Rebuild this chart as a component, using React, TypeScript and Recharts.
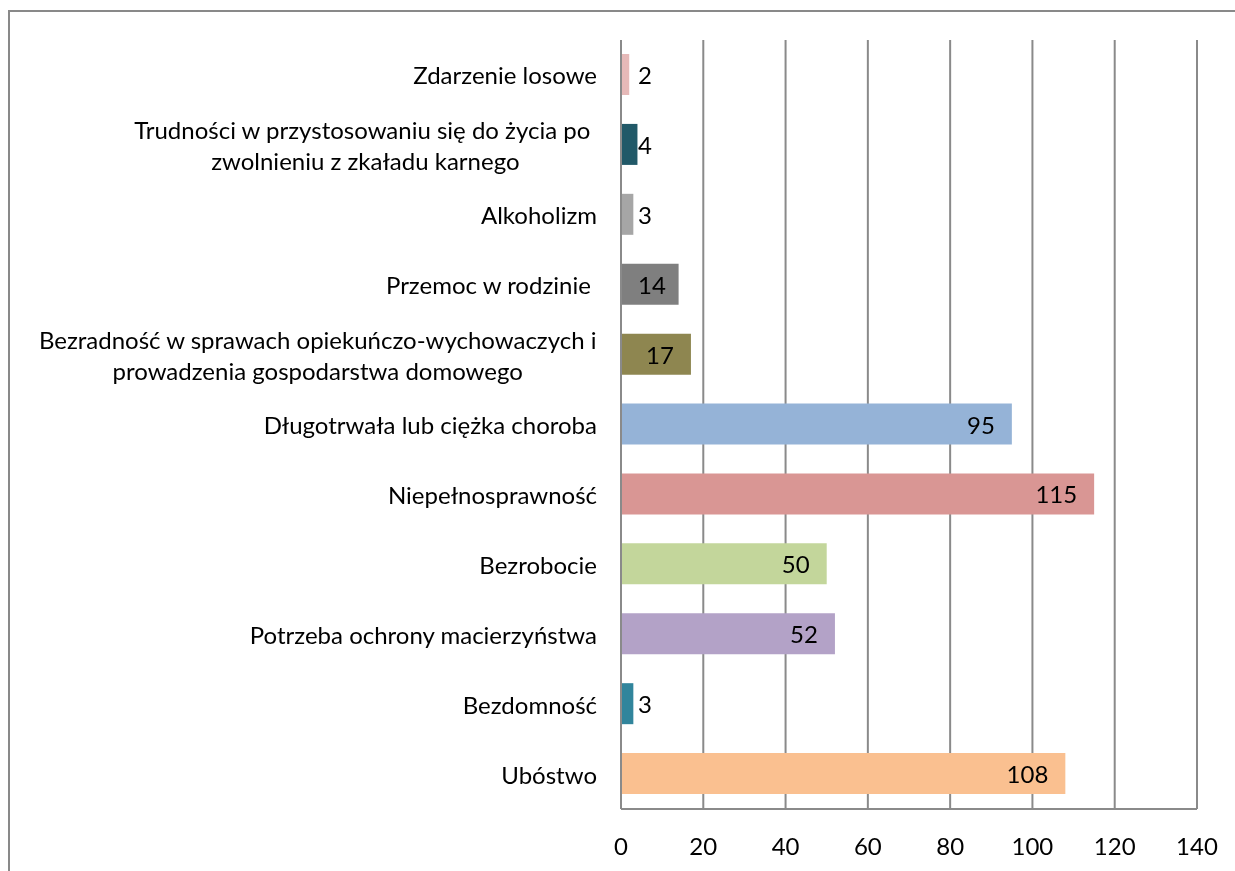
import React from 'react';
import { BarChart, Bar, XAxis, YAxis, CartesianGrid, Cell, LabelList } from 'recharts';

const categories = [
  'Zdarzenie losowe',
  'Trudności w przystosowaniu się do życia po \nzwolnieniu z zkaładu karnego',
  'Alkoholizm',
  'Przemoc w rodzinie ',
  'Bezradność w sprawach opiekuńczo-wychowaczych i\nprowadzenia gospodarstwa domowego',
  'Długotrwała lub ciężka choroba',
  'Niepełnosprawność',
  'Bezrobocie',
  'Potrzeba ochrony macierzyństwa',
  'Bezdomność',
  'Ubóstwo',
];
const values = [2, 4, 3, 14, 17, 95, 115, 50, 52, 3, 108];
const colors = ['#E6B9B8', '#215968', '#A6A6A6', '#7F7F7F', '#8E8650', '#95B3D7', '#D99694', '#C3D69B', '#B3A2C7', '#31859C', '#FAC090'];
const xTicks = [0, 20, 40, 60, 80, 100, 120, 140];

const data = categories.map((c, i) => ({ name: c, value: values[i], color: colors[i] }));

const FONT = 'Lato';
const FS = 24;

let ctx: CanvasRenderingContext2D | null = null;
function measure(s: string): number {
  if (!ctx) {
    const c = document.createElement('canvas');
    ctx = c.getContext('2d');
  }
  if (!ctx) return s.length * FS * 0.5;
  ctx.font = `${FS}px ${FONT}`;
  return ctx.measureText(s).width;
}

const CatTick = (props: any) => {
  const { x, y, payload } = props;
  const lines: string[] = String(payload.value).split('\n');
  if (lines.length === 1) {
    return (
      <text x={x} y={y} textAnchor="end" dominantBaseline="central" fontFamily={FONT} fontSize={FS} fill="#000" style={{ whiteSpace: 'pre' }}>
        {lines[0]}
      </text>
    );
  }
  const w = Math.max(...lines.map((l) => measure(l)));
  const cx = x - w / 2;
  const lh = 31;
  return (
    <text textAnchor="middle" fontFamily={FONT} fontSize={FS} fill="#000" style={{ whiteSpace: 'pre' }}>
      {lines.map((l, i) => (
        <tspan key={i} x={cx} y={y + (i - (lines.length - 1) / 2) * lh} dominantBaseline="central">
          {l}
        </tspan>
      ))}
    </text>
  );
};

const ValTick = (props: any) => {
  const { x, y, payload } = props;
  return (
    <text x={x} y={y + 28} textAnchor="middle" dominantBaseline="central" fontFamily={FONT} fontSize={FS} fill="#000">
      {payload.value}
    </text>
  );
};

const ValueLabel = (props: any) => {
  const { x, y, width, height, value } = props;
  const s = String(value);
  const tw = measure(s);
  const end = Math.max(x + width - 17, x + 17 + tw);
  return (
    <text x={end} y={y + height / 2} textAnchor="end" dominantBaseline="central" fontFamily={FONT} fontSize={FS} fill="#000">
      {s}
    </text>
  );
};

export default function App() {
  return (
    <div style={{ position: 'relative', width: 1219, height: 855 }}>
      <div
        style={{
          position: 'fixed',
          left: 8,
          top: 10,
          width: 2000,
          height: 2000,
          border: '2px solid #898989',
          boxSizing: 'border-box',
        }}
      />
      <div style={{ position: 'absolute', left: 0, top: 0 }}>
        <BarChart
          width={1219}
          height={855}
          data={data}
          layout="vertical"
          margin={{ top: 32, right: 30, bottom: 14, left: 0 }}
          barSize={41}
        >
          <CartesianGrid horizontal={false} vertical={true} stroke="#8A8A8A" strokeWidth={2} />
          <XAxis
            type="number"
            domain={[0, 140]}
            ticks={xTicks}
            tickLine={false}
            axisLine={{ stroke: '#8A8A8A', strokeWidth: 2 }}
            tick={<ValTick />}
            height={40}
            interval={0}
          />
          <YAxis
            type="category"
            dataKey="name"
            width={613}
            tickLine={false}
            tickSize={0}
            tickMargin={24}
            axisLine={{ stroke: '#8A8A8A', strokeWidth: 2 }}
            tick={<CatTick />}
            interval={0}
          />
          <Bar dataKey="value" isAnimationActive={false}>
            {data.map((d, i) => (
              <Cell key={i} fill={d.color} />
            ))}
            <LabelList dataKey="value" content={<ValueLabel />} />
          </Bar>
        </BarChart>
      </div>
    </div>
  );
}
